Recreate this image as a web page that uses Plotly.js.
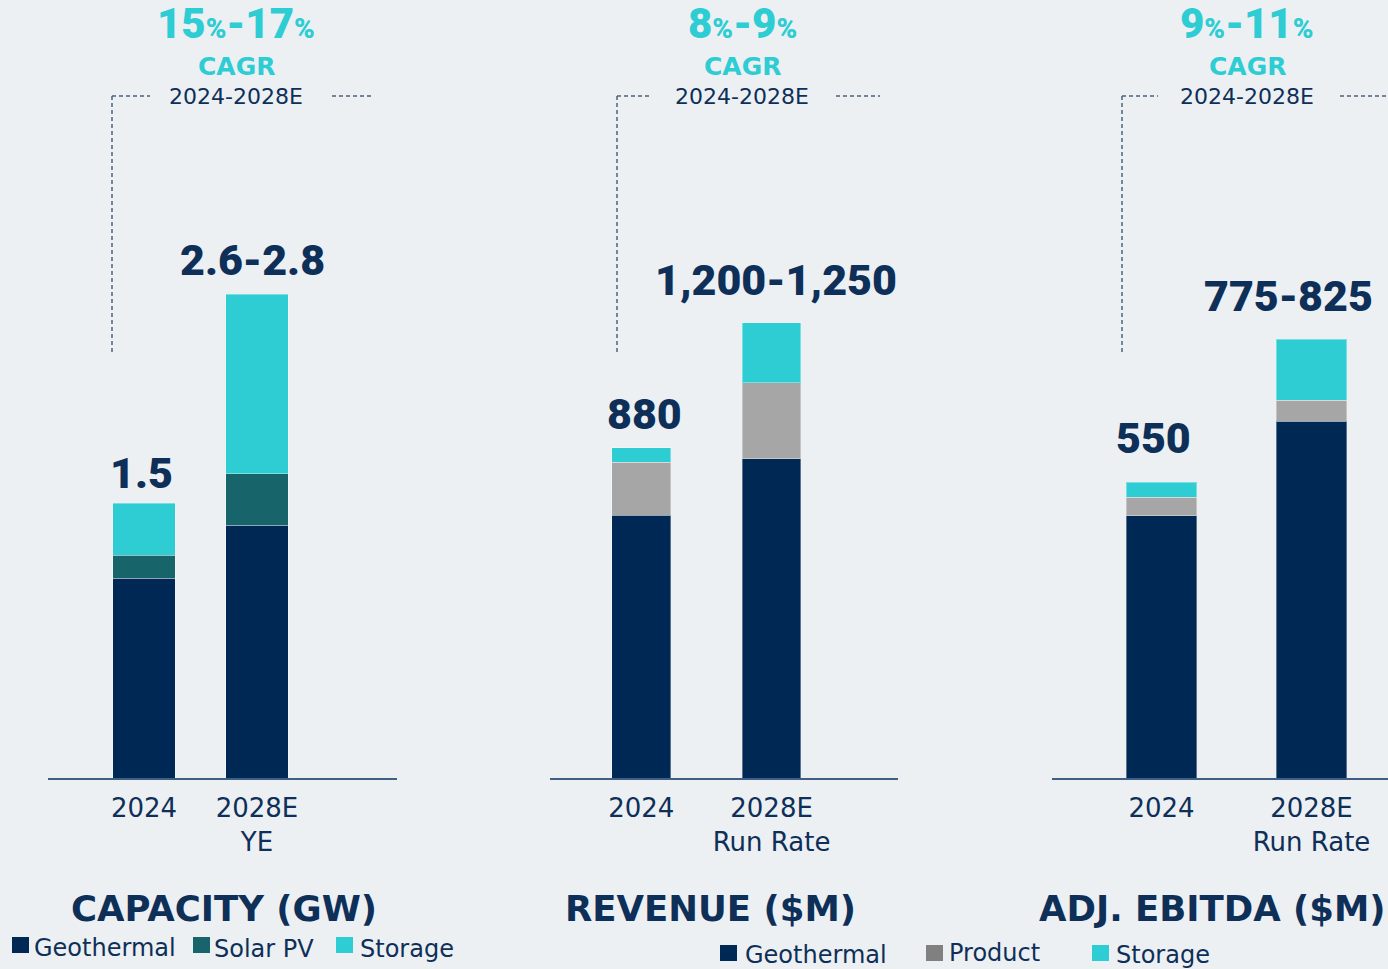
<!DOCTYPE html>
<html>
<head>
<meta charset="utf-8">
<script src="https://cdn.plot.ly/plotly-3.0.1.min.js"></script>
<style>
html,body{margin:0;padding:0;background:#ECF0F3;}
#chart{width:1388px;height:969px;}
</style>
</head>
<body>
<div id="chart"></div>
<script>
// ---------- DATA ----------
const years = ['2024', '2028E'];
const capacityTicks = ['2024', '2028E<br>YE'];
const runRateTicks = ['2024', '2028E<br>Run Rate'];

// Capacity (GW)
const capGeothermal = [1.09, 1.38];
const capSolar = [0.125, 0.28];
const capStorage = [0.285, 0.98];
const capLabels = ['1.5', '2.6-2.8'];

// Revenue ($M)
const revGeothermal = [701, 851];
const revProduct = [141, 203];
const revStorage = [38, 160];
const revLabels = ['880', '1,200-1,250'];

// Adj. EBITDA ($M)
const ebitdaGeothermal = [487, 663];
const ebitdaProduct = [35, 39];
const ebitdaStorage = [28, 113];
const ebitdaLabels = ['550', '775-825'];

const cagrLow = ['15', '8', '9'];
const cagrHigh = ['17', '9', '11'];
const cagrPeriod = '2024-2028E';
const panelTitles = ['CAPACITY (GW)', 'REVENUE ($M)', 'ADJ. EBITDA ($M)'];
const legend1 = ['Geothermal', 'Solar PV', 'Storage'];
const legend2 = ['Geothermal', 'Product', 'Storage'];

// ---------- STYLE ----------
const NAVY = '#002855';
const SOLAR = '#17656A';
const TEAL = '#2ECCD3';
const GREY = '#A6A6A6';
const GREY_LEG = '#808080';
const TEXT = '#0E2F58';
const BG = '#ECF0F3';
const W = 1388, H = 969;
const xp = p => p / W;
const yp = p => 1 - p / H;

const boldNum = 'Roboto, Arial, sans-serif';
const boldTitle = '"DejaVu Sans", sans-serif';
const reg = '"DejaVu Sans", sans-serif';

function bar(x, y, color, xa, ya, width) {
  return {
    type: 'bar', x: x, y: y, xaxis: xa, yaxis: ya, width: width,
    marker: {color: color, line: {color: 'rgba(255,255,255,0.35)', width: 1}},
    showlegend: false, hoverinfo: 'skip'
  };
}

const traces = [
  bar(years, capGeothermal, NAVY, 'x', 'y', 0.55),
  bar(years, capSolar, SOLAR, 'x', 'y', 0.55),
  bar(years, capStorage, TEAL, 'x', 'y', 0.55),
  bar(years, revGeothermal, NAVY, 'x2', 'y2', 0.45),
  bar(years, revProduct, GREY, 'x2', 'y2', 0.45),
  bar(years, revStorage, TEAL, 'x2', 'y2', 0.45),
  bar(years, ebitdaGeothermal, NAVY, 'x3', 'y3', 0.47),
  bar(years, ebitdaProduct, GREY, 'x3', 'y3', 0.47),
  bar(years, ebitdaStorage, TEAL, 'x3', 'y3', 0.47)
];

const sum = (...arrs) => arrs[0].map((_, i) => arrs.reduce((s, a) => s + a[i], 0));
const capTotal = sum(capGeothermal, capSolar, capStorage);
const revTotal = sum(revGeothermal, revProduct, revStorage);
const ebitdaTotal = sum(ebitdaGeothermal, ebitdaProduct, ebitdaStorage);

const yDom = [yp(778), yp(200)];
function xaxis(dom, range, ticks, anchor) {
  return {
    domain: dom, range: range, type: 'category', fixedrange: true, anchor: anchor,
    showline: true, linecolor: '#3F5F85', linewidth: 2,
    showgrid: false, zeroline: false, ticks: '', ticklabelstandoff: 6,
    tickvals: years, ticktext: ticks,
    tickfont: {family: reg, size: 26, color: TEXT}
  };
}
function yaxis(anchor, range) {
  return {domain: yDom, range: range, anchor: anchor, visible: false, fixedrange: true};
}

const annotations = [];
// value labels (x given as category index)
function valLabels(labels, totals, xa, ya, shifts) {
  labels.forEach((t, i) => {
    annotations.push({
      text: t, x: i, y: totals[i], xref: xa, yref: ya,
      xanchor: 'center', yanchor: 'bottom', showarrow: false,
      xshift: shifts[i][0], yshift: shifts[i][1],
      font: {family: boldNum, size: 43, color: TEXT, weight: 900}
    });
  });
}
valLabels(capLabels, capTotal, 'x', 'y', [[-3, 3], [-4, 7]]);
valLabels(revLabels, revTotal, 'x2', 'y2', [[3, 7], [4, 16]]);
valLabels(ebitdaLabels, ebitdaTotal, 'x3', 'y3', [[-8, 17], [-23, 16]]);

// CAGR headers
const cagrX = [236, 742, 1247];
cagrX.forEach((cx, i) => {
  annotations.push({
    text: cagrLow[i] + '<span style="font-size:28px">%</span>-' + cagrHigh[i] + '<span style="font-size:28px">%</span>',
    x: xp(cx), y: yp(24), xref: 'paper', yref: 'paper', xanchor: 'center', yanchor: 'middle',
    showarrow: false, font: {family: boldNum, size: 42, color: TEAL, weight: 900}
  });
  annotations.push({
    text: 'CAGR', x: xp(cx), y: yp(66), xref: 'paper', yref: 'paper', xanchor: 'center', yanchor: 'middle',
    showarrow: false, font: {family: boldTitle, size: 25, color: TEAL, weight: 'bold'}
  });
  annotations.push({
    text: cagrPeriod, x: xp(cx), y: yp(97), xref: 'paper', yref: 'paper', xanchor: 'center', yanchor: 'middle',
    showarrow: false, font: {family: reg, size: 22, color: TEXT}
  });
});

// panel titles
const titleX = [224, 710, 1212];
panelTitles.forEach((t, i) => {
  annotations.push({
    text: t, x: xp(titleX[i]), y: yp(908), xref: 'paper', yref: 'paper', xanchor: 'center', yanchor: 'middle',
    showarrow: false, font: {family: boldTitle, size: 35.5, color: TEXT, weight: 'bold'}
  });
});

// legends (manual)
const shapes = [];
function legendItem(color, sx, sy, label, tx, ty) {
  shapes.push({type: 'rect', xref: 'paper', yref: 'paper', x0: xp(sx), x1: xp(sx + 17), y0: yp(sy + 16), y1: yp(sy),
    fillcolor: color, line: {width: 0}});
  annotations.push({text: label, x: xp(tx), y: yp(ty), xref: 'paper', yref: 'paper', xanchor: 'left', yanchor: 'middle',
    showarrow: false, font: {family: reg, size: 24, color: TEXT}});
}
legendItem(NAVY, 12, 937, legend1[0], 32, 948);
legendItem(SOLAR, 193, 937, legend1[1], 212, 949);
legendItem(TEAL, 336, 937, legend1[2], 358, 949);
legendItem(NAVY, 720, 945, legend2[0], 743, 955);
legendItem(GREY_LEG, 926, 945, legend2[1], 947, 953);
legendItem(TEAL, 1092, 945, legend2[2], 1114, 955);

// dashed brackets
const bracket = [[112, 150, 332, 374], [617, 652, 836, 880], [1122, 1158, 1340, 1386]];
bracket.forEach(b => {
  const ln = {color: '#4A6383', width: 1.5, dash: '4px,3px'};
  shapes.push({type: 'line', xref: 'paper', yref: 'paper', x0: xp(b[0]), x1: xp(b[0]), y0: yp(96), y1: yp(355), line: ln});
  shapes.push({type: 'line', xref: 'paper', yref: 'paper', x0: xp(b[0]), x1: xp(b[1]), y0: yp(96), y1: yp(96), line: ln});
  shapes.push({type: 'line', xref: 'paper', yref: 'paper', x0: xp(b[2]), x1: xp(b[3]), y0: yp(96), y1: yp(96), line: ln});
});

const layout = {
  width: W, height: H,
  margin: {l: 0, r: 0, t: 0, b: 0},
  paper_bgcolor: BG, plot_bgcolor: BG,
  barmode: 'stack', showlegend: false,
  xaxis: xaxis([xp(48), xp(397)], [-0.85, 2.24], capacityTicks, 'y'),
  yaxis: yaxis('x', [0, 3.153]),
  xaxis2: xaxis([xp(550), xp(898)], [-0.70, 1.97], runRateTicks, 'y2'),
  yaxis2: yaxis('x2', [0, 1541]),
  xaxis3: xaxis([xp(1052), xp(1388)], [-0.73, 1.51], runRateTicks, 'y3'),
  yaxis3: yaxis('x3', [0, 1074]),
  annotations: annotations,
  shapes: shapes
};

Plotly.newPlot('chart', traces, layout, {displayModeBar: false, staticPlot: true});
</script>
</body>
</html>
